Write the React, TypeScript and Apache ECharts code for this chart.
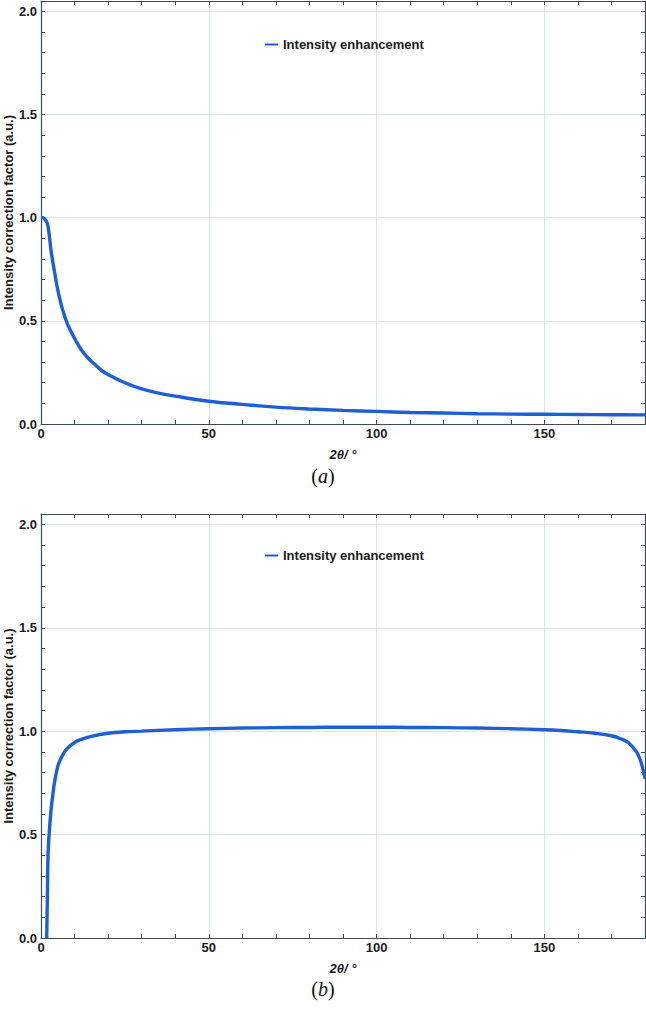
import React, { useEffect, useRef } from "react";
import * as echarts from "echarts";

// Panel (a)
const topX = [0, 0.5, 1, 1.5, 2, 2.5, 3, 4, 5, 6, 7, 8, 10, 12, 14, 16, 18, 20, 25, 30, 35, 40, 50, 60, 70, 80, 90, 100, 110, 120, 130, 140, 150, 160, 170, 180];
const topY = [1.0, 1.0, 0.995, 0.985, 0.965, 0.91, 0.84, 0.74, 0.65, 0.58, 0.525, 0.48, 0.415, 0.36, 0.32, 0.29, 0.26, 0.24, 0.2, 0.17, 0.15, 0.135, 0.11, 0.095, 0.082, 0.073, 0.066, 0.061, 0.056, 0.053, 0.05, 0.048, 0.047, 0.046, 0.045, 0.044];

// Panel (b)
const botX = [1.7, 1.9, 2.1, 2.5, 3, 3.5, 4, 5, 6, 7, 8, 10, 12, 15, 20, 25, 30, 40, 50, 60, 70, 80, 90, 100, 110, 120, 130, 140, 150, 155, 160, 165, 170, 173, 175, 177, 178, 179, 180];
const botY = [0, 0.2, 0.4, 0.52, 0.62, 0.69, 0.75, 0.83, 0.87, 0.9, 0.92, 0.945, 0.96, 0.975, 0.99, 0.997, 1.0, 1.007, 1.012, 1.015, 1.017, 1.018, 1.019, 1.019, 1.018, 1.017, 1.015, 1.012, 1.007, 1.003, 0.997, 0.99, 0.978, 0.962, 0.945, 0.91, 0.885, 0.84, 0.77];

const seriesName = "Intensity enhancement";
const xName = "2θ/ °";
const yName = "Intensity correction factor (a.u.)";
const captions = ["a", "b"];

const LINE = "#1d5fd4";
const AXIS = "#3b4d52";
const GRIDC = "#dde7eb";
const TXT = "#1b1b1b";

export default function App() {
  const ref = useRef<HTMLDivElement>(null);
  useEffect(() => {
    const chart = echarts.init(ref.current!, null, { renderer: "svg" });
    const grids = [
      { left: 41, right: 1, top: 1, height: 423, outerBoundsMode: "none", containLabel: false },
      { left: 41, right: 1, top: 514, height: 424, outerBoundsMode: "none", containLabel: false },
    ];
    const lineOn = { show: true, onZero: false, lineStyle: { color: AXIS, width: 1.2 } };
    const tickOn = { show: true, inside: true, length: 4, lineStyle: { color: AXIS } };
    const xAxis: any[] = [];
    const yAxis: any[] = [];
    grids.forEach((g, gi) => {
      const xBase = { type: "value", gridIndex: gi, min: 0, max: 180 };
      const yBase = { type: "value", gridIndex: gi, min: 0, max: 2.05 };
      xAxis.push({
        ...xBase,
        position: "bottom",
        interval: 10,
        name: xName,
        nameLocation: "middle",
        nameGap: 24,
        nameTextStyle: { fontFamily: "Liberation Sans", fontWeight: "bold", fontStyle: "italic", fontSize: 13, color: TXT },
        axisLine: lineOn,
        axisTick: tickOn,
        axisLabel: {
          margin: 3,
          fontFamily: "Liberation Sans",
          fontWeight: "bold",
          fontSize: 13,
          color: TXT,
          formatter: (v: number) => (Math.abs(v / 50 - Math.round(v / 50)) < 1e-6 ? String(Math.round(v)) : ""),
        },
        splitLine: { show: false },
      });
      xAxis.push({
        ...xBase,
        position: "top",
        interval: 10,
        axisLine: lineOn,
        axisTick: tickOn,
        axisLabel: { show: false },
        splitLine: { show: false },
      });
      xAxis.push({
        ...xBase,
        position: "bottom",
        interval: 50,
        axisLine: { show: false, onZero: false },
        axisTick: { show: false },
        axisLabel: { show: false },
        splitLine: { show: true, lineStyle: { color: GRIDC, width: 1 } },
      });
      yAxis.push({
        ...yBase,
        position: "left",
        interval: 0.1,
        name: yName,
        nameLocation: "middle",
        nameGap: 26,
        nameMoveOverlap: false,
        nameTextStyle: { fontFamily: "Liberation Sans", fontWeight: "bold", fontSize: 13, color: TXT },
        axisLine: lineOn,
        axisTick: tickOn,
        axisLabel: {
          margin: 4,
          fontFamily: "Liberation Sans",
          fontWeight: "bold",
          fontSize: 13,
          color: TXT,
          formatter: (v: number) =>
            Math.abs(v / 0.5 - Math.round(v / 0.5)) < 1e-6 && v < 2.01 ? v.toFixed(1) : "",
        },
        splitLine: { show: false },
      });
      yAxis.push({
        ...yBase,
        position: "right",
        interval: 0.1,
        axisLine: lineOn,
        axisTick: tickOn,
        axisLabel: { show: false },
        splitLine: { show: false },
      });
      yAxis.push({
        ...yBase,
        position: "left",
        interval: 0.5,
        axisLine: { show: false, onZero: false },
        axisTick: { show: false },
        axisLabel: { show: false },
        splitLine: { show: true, lineStyle: { color: GRIDC, width: 1 } },
      });
    });

    const mk = (xs: number[], ys: number[]) => xs.map((x, i) => [x, ys[i]]);
    const series = [
      { data: mk(topX, topY), xAxisIndex: 0, yAxisIndex: 0 },
      { data: mk(botX, botY), xAxisIndex: 3, yAxisIndex: 3 },
    ].map((s) => ({
      ...s,
      type: "line",
      name: seriesName,
      showSymbol: false,
      symbol: "none",
      smooth: 0.4,
      clip: true,
      lineStyle: { color: LINE, width: 3.4 },
      itemStyle: { color: LINE },
      z: 5,
    }));

    const legendBase = {
      data: [seriesName],
      left: 260,
      icon: "rect",
      itemWidth: 13,
      itemHeight: 2,
      selectedMode: false,
      textStyle: { fontFamily: "Liberation Sans", fontWeight: "bold", fontSize: 13, color: TXT },
    };

    const caption = (letter: string, top: number) => ({
      type: "text",
      left: "center",
      top,
      style: {
        text: "{n|(}{i|" + letter + "}{n|)}",
        rich: {
          n: { fontFamily: "Liberation Serif", fontSize: 20, fill: "#111" },
          i: { fontFamily: "Liberation Serif", fontStyle: "italic", fontSize: 20, fill: "#111" },
        },
      },
    });

    chart.setOption({
      animation: false,
      backgroundColor: "#ffffff",
      grid: grids,
      xAxis,
      yAxis,
      series,
      legend: [
        { ...legendBase, top: 33 },
        { ...legendBase, top: 544 },
      ],
      graphic: [caption(captions[0], 466), caption(captions[1], 979)],
    });
    return () => chart.dispose();
  }, []);
  return (
    <div
      ref={ref}
      style={{ position: "absolute", left: 0, top: 0, width: 646, height: 1028 }}
    />
  );
}
